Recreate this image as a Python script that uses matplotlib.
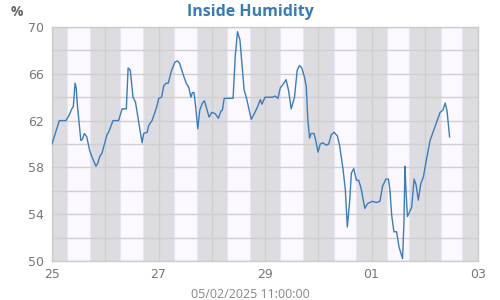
import datetime as dt
import matplotlib
matplotlib.use("Agg")
import matplotlib.pyplot as plt
import matplotlib.dates as mdates

# hours since 25/04/2025 00:00 and inside humidity (%)
hours = [0.0, 3.3, 6.3, 7.8, 8.9, 9.6, 10.4, 10.9, 11.5, 13.0, 13.7, 14.6, 15.7, 16.9,
         18.0, 19.8, 20.5, 21.7, 22.5, 24.8, 25.5, 27.5, 30.0, 31.6, 33.5, 34.3, 35.3,
         36.5, 37.6, 40.6, 41.3, 42.9, 43.6, 45.1, 47.1, 48.1, 49.4, 50.4, 51.5, 52.4,
         53.9, 55.4, 56.6, 57.5, 59.0, 60.5, 61.7, 62.6, 63.3, 64.0, 64.8, 65.7, 66.6,
         67.8, 68.7, 69.6, 70.8, 72.0, 73.5, 75.0, 76.1, 76.8, 77.6, 81.6, 82.6, 83.6,
         84.7, 86.6, 87.7, 89.8, 91.2, 92.7, 93.9, 94.6, 96.0, 99.5, 100.5, 101.8, 102.9,
         104.5, 105.5, 106.6, 107.8, 109.3, 110.5, 111.5, 112.6, 113.8, 114.6, 115.3,
         116.1, 116.8, 118.1, 119.1, 119.9, 120.9, 122.1, 123.6, 124.7, 125.9, 127.1,
         128.6, 129.6, 131.2, 132.2, 133.1, 134.2, 134.9, 136.0, 137.2, 138.2, 139.2,
         141.0, 142.2, 144.3, 146.3, 147.8, 149.0, 150.5, 151.6, 152.3, 153.1, 154.1,
         155.3, 156.4, 158.0, 158.6, 159.1, 159.5, 160.2, 162.1, 163.2, 164.1, 165.1,
         166.2, 167.4, 168.6, 170.4, 171.9, 173.4, 174.9, 176.2, 177.2, 178.0, 179.2]
humidity = [60.0, 62.0, 62.0, 62.5, 63.0, 63.2, 65.2, 64.8, 63.2, 60.3, 60.4, 60.9, 60.6, 59.5,
            58.9, 58.1, 58.3, 59.0, 59.2, 60.8, 61.0, 62.0, 62.0, 63.0, 63.0, 66.5, 66.3,
            64.0, 63.6, 60.1, 60.9, 61.0, 61.6, 62.0, 63.1, 63.9, 64.0, 65.0, 65.2, 65.2,
            66.3, 67.0, 67.1, 66.9, 66.0, 65.2, 64.8, 64.0, 64.4, 64.4, 63.1, 61.3, 62.9,
            63.5, 63.7, 63.1, 62.3, 62.7, 62.6, 62.2, 62.8, 62.9, 63.9, 63.9, 67.5, 69.6,
            68.9, 64.6, 63.9, 62.1, 62.6, 63.2, 63.8, 63.4, 64.0, 64.0, 64.1, 63.9, 64.8,
            65.2, 65.5, 64.6, 63.0, 64.0, 66.3, 66.7, 66.5, 65.7, 64.9, 62.1,
            60.5, 60.9, 60.9, 60.1, 59.3, 60.0, 60.1, 59.9, 60.0, 60.8, 61.0,
            60.7, 59.9, 57.8, 56.1, 52.9, 55.2, 57.5, 57.9, 56.9, 56.9, 56.3,
            54.5, 54.9, 55.1, 55.0, 55.1, 56.4, 57.0, 57.0, 56.1, 53.9, 52.5,
            52.5, 51.2, 50.2, 53.2, 58.1, 56.1, 53.8, 54.6, 57.0, 56.5, 55.2,
            56.6, 57.2, 58.5, 60.3, 61.1, 61.9, 62.7, 62.9, 63.5, 62.9, 60.6]

# local sunrise / sunset (hours) for each day shown
sunrise = [6.75, 6.8, 6.8, 6.85, 6.9, 6.95, 7.0, 7.1, 7.1]
sunset = [17.25, 17.2, 17.2, 17.2, 17.15, 17.1, 17.05, 17.0, 17.0]

tick_days = ["2025-04-25", "2025-04-27", "2025-04-29", "2025-05-01", "2025-05-03"]
y_ticks = [50, 54, 58, 62, 66, 70]

start = dt.datetime(2025, 4, 25)
end = dt.datetime(2025, 5, 3)
times = [start + dt.timedelta(hours=h) for h in hours]

fig = plt.figure(figsize=(5, 3), dpi=100)
ax = fig.add_axes([0.104, 0.13, 0.852, 0.78])
plt.rcParams["font.family"] = ["Open Sans", "DejaVu Sans"]

# day / night background
ax.set_facecolor("#dddce0")
for i in range(len(sunrise)):
    day = start + dt.timedelta(days=i)
    ax.axvspan(day + dt.timedelta(hours=sunrise[i]), day + dt.timedelta(hours=sunset[i]),
               facecolor="#fbf9ff", edgecolor="#ebe4f4", lw=0.8, zorder=0)

ax.plot(times, humidity, color="#3a7dbb", lw=1.0, zorder=3)

ax.set_xlim(start, end)
ax.set_ylim(50, 70)
ax.set_xticks([dt.datetime.strptime(d, "%Y-%m-%d") for d in tick_days])
ax.xaxis.set_major_formatter(mdates.DateFormatter("%d"))
ax.xaxis.set_minor_locator(mdates.DayLocator())
ax.set_yticks(y_ticks)
ax.set_yticks(range(50, 71, 2), minor=True)

ax.grid(True, which="both", color="#cfcfcf", lw=1.0, zorder=1)
ax.set_axisbelow(True)
ax.tick_params(which="both", length=0, colors="#777777", labelsize=9)
ax.tick_params(axis="x", pad=5)
ax.tick_params(axis="y", pad=6)
for s in ax.spines.values():
    s.set_color("#cccccc")
    s.set_linewidth(1.0)

fig.text(0.5, 0.96, "Inside Humidity", ha="center", va="center",
         fontsize=11.5, fontweight="bold", color="#3a7ab8")
fig.text(0.034, 0.96, "%", ha="center", va="center", fontsize=10,
         fontweight="bold", color="#666666")
fig.text(0.5, 0.02, "05/02/2025 11:00:00", ha="center", va="center",
         fontsize=9, color="#888888")

fig.savefig("out.png", dpi=100)
